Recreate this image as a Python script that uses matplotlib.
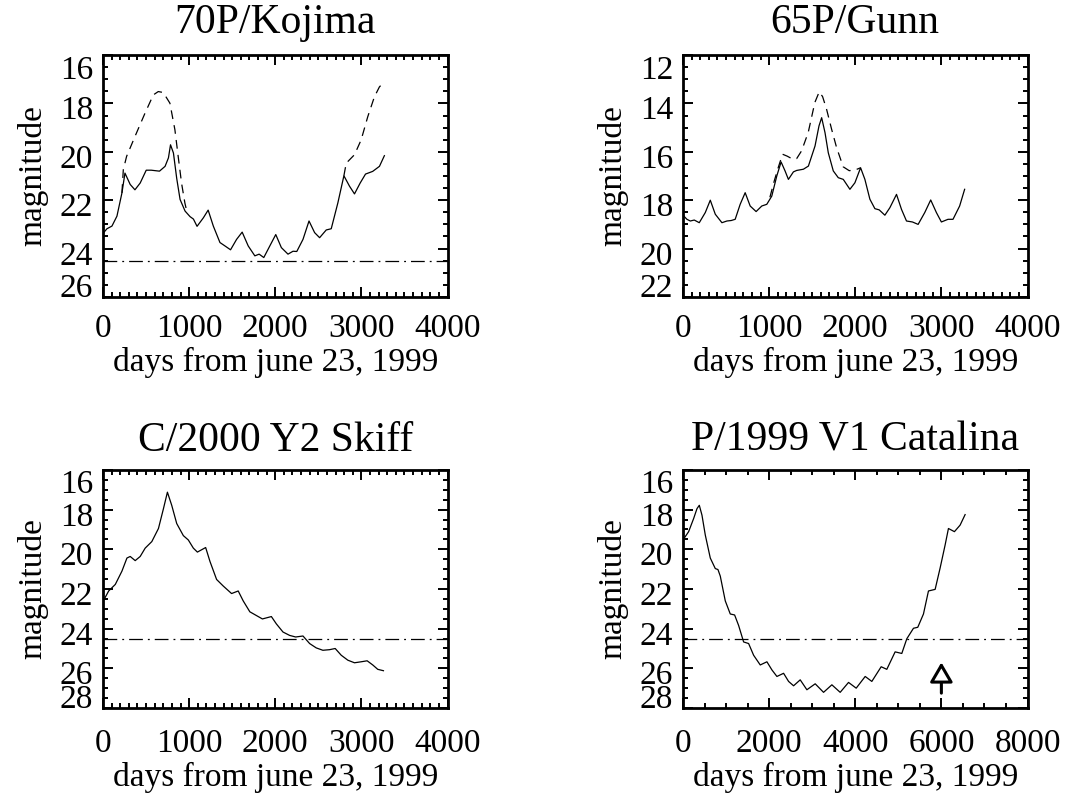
import matplotlib
matplotlib.use("Agg")
import matplotlib.pyplot as plt
from matplotlib.ticker import MultipleLocator
from matplotlib.transforms import ScaledTranslation

plt.rcParams['font.family'] = ['Liberation Serif', 'DejaVu Serif']
plt.rcParams['mathtext.fontset'] = 'stix'

# ---------------- data ----------------
# 70P/Kojima
kojima_day = [8, 46, 104, 162, 220, 255, 290, 316, 371, 432, 502, 560, 656, 721, 760, 784, 818, 856,
              895, 953, 1011, 1050, 1092, 1165, 1221, 1281, 1358, 1416, 1481, 1551, 1616, 1686, 1763,
              1813, 1867, 1937, 2006, 2071, 2148, 2206, 2250, 2322, 2392, 2457, 2515, 2592, 2650,
              2727, 2797, 2862, 2920, 2986, 3048, 3131, 3210, 3267]
kojima_mag = [23.34, 23.18, 23.07, 22.66, 21.70, 20.88, 21.15, 21.35, 21.57, 21.29, 20.76, 20.76,
              20.80, 20.60, 20.25, 19.71, 20.05, 21.10, 21.97, 22.45, 22.68, 22.78, 23.08, 22.73,
              22.41, 23.07, 23.75, 23.89, 24.05, 23.62, 23.32, 23.89, 24.30, 24.23, 24.37, 23.89,
              23.42, 23.96, 24.23, 24.11, 24.12, 23.62, 22.86, 23.34, 23.55, 23.23, 23.18, 22.11,
              20.99, 21.42, 21.74, 21.29, 20.92, 20.81, 20.60, 20.16]
kojima_alt_day_a = [220, 236, 274, 371, 487, 584, 642, 700, 777, 835, 873, 912, 951, 978]
kojima_alt_mag_a = [21.70, 20.74, 20.19, 19.37, 18.41, 17.65, 17.51, 17.55, 17.99, 19.09, 20.19,
                    21.29, 22.12, 22.53]
kojima_alt_day_b = [2797, 2824, 2920, 2997, 3074, 3151, 3209, 3267]
kojima_alt_mag_b = [20.99, 20.47, 20.12, 19.51, 18.55, 17.73, 17.32, 17.10]

# 65P/Gunn
gunn_day = [8, 46, 85, 131, 189, 259, 317, 375, 452, 510, 560, 606, 664, 722, 780, 849, 915, 973,
            1031, 1089, 1139, 1185, 1224, 1282, 1320, 1398, 1456, 1533, 1579, 1610, 1649, 1687,
            1745, 1803, 1861, 1938, 1996, 2062, 2112, 2170, 2228, 2278, 2344, 2402, 2479, 2537,
            2595, 2664, 2730, 2807, 2876, 2942, 3000, 3077, 3135, 3212, 3270]
gunn_mag = [18.65, 18.79, 18.86, 18.82, 18.93, 18.51, 18.00, 18.58, 18.93, 18.86, 18.84, 18.79,
            18.17, 17.69, 18.24, 18.47, 18.24, 18.17, 17.83, 17.00, 16.42, 16.79, 17.14, 16.83,
            16.77, 16.72, 16.59, 15.76, 14.93, 14.59, 15.21, 16.04, 16.79, 17.07, 17.14, 17.55,
            17.28, 16.66, 17.14, 17.96, 18.35, 18.40, 18.62, 18.31, 17.76, 18.38, 18.86, 18.90,
            19.00, 18.51, 17.99, 18.51, 18.90, 18.79, 18.79, 18.24, 17.55]
gunn_alt_day = [1009, 1060, 1106, 1156, 1210, 1272, 1320, 1377, 1454, 1531, 1582, 1621, 1667,
                1725, 1783, 1860, 1930, 2000, 2062]
gunn_alt_mag = [17.88, 17.20, 16.65, 16.10, 16.18, 16.30, 16.28, 15.96, 15.20, 13.96, 13.52, 13.72,
                14.24, 15.06, 15.82, 16.62, 16.78, 16.75, 16.66]

# C/2000 Y2 Skiff
skiff_day = [15, 66, 143, 220, 278, 316, 374, 432, 490, 567, 644, 702, 748, 798, 856, 933, 991,
             1049, 1096, 1146, 1192, 1242, 1319, 1396, 1493, 1570, 1628, 1705, 1782, 1851, 1955,
             2013, 2090, 2167, 2237, 2322, 2399, 2476, 2553, 2630, 2696, 2766, 2843, 2920, 2997,
             3067, 3132, 3190, 3256]
skiff_mag = [22.51, 22.10, 21.77, 21.10, 20.44, 20.36, 20.57, 20.36, 19.94, 19.61, 18.95, 17.95,
             17.12, 17.78, 18.70, 19.31, 19.53, 19.94, 20.14, 20.02, 19.91, 20.61, 21.52, 21.85,
             22.23, 22.10, 22.60, 23.15, 23.34, 23.51, 23.39, 23.76, 24.17, 24.34, 24.42, 24.37,
             24.75, 24.97, 25.09, 25.06, 25.00, 25.34, 25.59, 25.72, 25.67, 25.62, 25.83, 26.05,
             26.12]

# P/1999 V1 Catalina
catalina_day = [15, 131, 247, 325, 379, 441, 518, 634, 750, 812, 866, 982, 1098, 1199, 1292, 1408,
                1524, 1640, 1794, 1949, 2065, 2181, 2336, 2452, 2568, 2722, 2877, 3070, 3264, 3457,
                3650, 3844, 4022, 4231, 4385, 4602, 4733, 4926, 5081, 5197, 5352, 5452, 5584, 5700,
                5855, 5971, 6087, 6164, 6303, 6435, 6551]
catalina_mag = [19.48, 19.11, 18.45, 17.95, 17.78, 18.28, 19.28, 20.44, 20.97, 21.02, 21.35, 22.60,
                23.26, 23.31, 23.84, 24.67, 24.75, 25.34, 25.83, 25.67, 26.08, 26.41, 26.25, 26.66,
                26.88, 26.58, 27.08, 26.78, 27.21, 26.83, 27.21, 26.71, 27.00, 26.41, 26.66, 25.92,
                26.05, 25.17, 25.25, 24.51, 23.98, 23.93, 23.26, 22.10, 22.02, 20.94, 19.78, 18.95,
                19.11, 18.78, 18.25]
catalina_arrow_day = 6000
catalina_arrow_tail = 27.25
catalina_arrow_tip = 25.7

limit_mag = 24.5

titles = ["70P/Kojima", "65P/Gunn", "C/2000 Y2 Skiff", "P/1999 V1 Catalina"]
xlabel = "days from june 23, 1999"
ylabel = "magnitude"

# ---------------- figure ----------------
fig = plt.figure(figsize=(10.65, 8.02), dpi=100)
L1, L2, W = 0.0967, 0.6413, 0.3235
B1, H1 = 0.6297, 0.3017
B2, H2 = 0.1172, 0.2968
axs = [fig.add_axes([L1, B1, W, H1]), fig.add_axes([L2, B1, W, H1]),
       fig.add_axes([L1, B2, W, H2]), fig.add_axes([L2, B2, W, H2])]

FS = 24
TFS = 30
solid_kw = dict(color='black', lw=0.9)
dash_kw = dict(color='black', lw=0.9, linestyle=(0, (7, 5)))
dd_kw = dict(color='black', lw=0.9, linestyle=(0, (11, 4, 1.5, 4)))

cfg = [
    (4000, 1000, 100, (26, 16), 2, 0.5),
    (4000, 1000, 100, (22, 12), 2, 0.5),
    (4000, 1000, 100, (28, 16), 2, 0.5),
    (8000, 2000, 500, (28, 16), 2, 0.5),
]
xpads = [12, 12, 15, 15]
tpads = [16, 16, 14, 14]

down = ScaledTranslation(0, -3 / 72, fig.dpi_scale_trans)

for ax, title, (xmax, xmaj, xmin, ylim, ymaj, ymin), xp, tp in zip(axs, titles, cfg, xpads, tpads):
    ax.set_xlim(0, xmax)
    ax.set_ylim(*ylim)
    ax.xaxis.set_major_locator(MultipleLocator(xmaj))
    ax.xaxis.set_minor_locator(MultipleLocator(xmin))
    ax.yaxis.set_major_locator(MultipleLocator(ymaj))
    ax.yaxis.set_minor_locator(MultipleLocator(ymin))
    ax.tick_params(which='both', direction='in', top=True, right=True, width=1.4)
    ax.tick_params(which='major', length=7, labelsize=FS)
    ax.tick_params(which='minor', length=3.5)
    ax.tick_params(axis='x', which='major', pad=xp)
    ax.tick_params(axis='y', which='major', pad=7)
    for s in ax.spines.values():
        s.set_linewidth(2.0)
    ax.set_title(title, fontsize=TFS, pad=tp)
    ax.set_xlabel(xlabel, fontsize=FS, labelpad=2)
    ax.set_ylabel(ylabel, fontsize=FS, labelpad=8)
    # IDL-like placement of y tick labels: end labels kept inside the axis range
    ticks = ax.yaxis.get_major_ticks()
    locs = ax.yaxis.get_majorticklocs()
    for tk, loc in zip(ticks, locs):
        if abs(loc - ylim[1]) < 1e-6:
            tk.label1.set_va('top')
        elif abs(loc - ylim[0]) < 1e-6:
            tk.label1.set_va('baseline')
        else:
            tk.label1.set_transform(tk.label1.get_transform() + down)

ax = axs[0]
ax.plot(kojima_alt_day_a, kojima_alt_mag_a, **dash_kw)
ax.plot(kojima_alt_day_b, kojima_alt_mag_b, **dash_kw)
ax.plot(kojima_day, kojima_mag, **solid_kw)
ax.axhline(limit_mag, **dd_kw)

ax = axs[1]
ax.plot(gunn_alt_day, gunn_alt_mag, **dash_kw)
ax.plot(gunn_day, gunn_mag, **solid_kw)

ax = axs[2]
ax.plot(skiff_day, skiff_mag, **solid_kw)
ax.axhline(limit_mag, **dd_kw)

ax = axs[3]
ax.plot(catalina_day, catalina_mag, **solid_kw)
ax.axhline(limit_mag, **dd_kw)
ax.annotate("", xy=(catalina_arrow_day, catalina_arrow_tip),
            xytext=(catalina_arrow_day, catalina_arrow_tail),
            arrowprops=dict(arrowstyle='-|>,head_width=0.7,head_length=1.2',
                            fc='white', ec='black', lw=2.2, shrinkA=0, shrinkB=0))

fig.savefig("out.png", dpi=100)
